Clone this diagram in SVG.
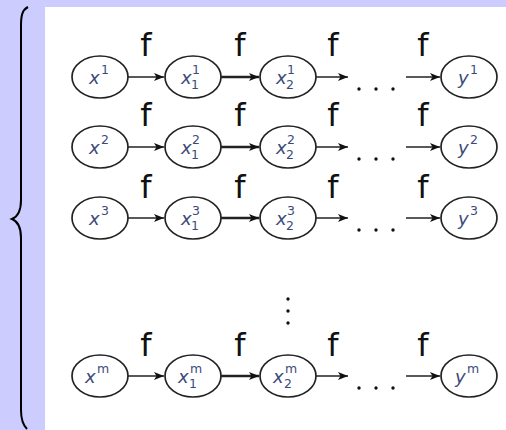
<svg xmlns="http://www.w3.org/2000/svg" width="506" height="430" viewBox="0 0 506 430">
  <defs>
    <marker id="head" viewBox="0 0 10 10" refX="10" refY="5" markerWidth="10" markerHeight="10" markerUnits="userSpaceOnUse" orient="auto">
      <path d="M0,1 L10,5 L0,9 L2.5,5 Z" fill="#111"/>
    </marker>
    <style>
      .node ellipse { fill: #fff; stroke: #222; stroke-width: 1.7; }
      .lbl { font-family: "DejaVu Sans", "Liberation Sans", sans-serif; font-style: italic; font-size: 18px; fill: #3c4a7a; }
      .sup { font-family: "DejaVu Sans", "Liberation Sans", sans-serif; font-style: normal; font-size: 12.5px; fill: #3c4a7a; }
      .f { font-family: "DejaVu Sans", "Liberation Sans", sans-serif; font-size: 32px; fill: #111; text-anchor: middle; }
      .edge { stroke: #222; stroke-width: 1.5; fill: none; marker-end: url(#head); }
      .bold { stroke-width: 2.4; }
      .dot { fill: #111; }
    </style>
  </defs>

  <!-- page background and panel -->
  <rect width="506" height="430" fill="#ccccff"/>
  <rect x="45" y="7" width="461" height="423" fill="#ffffff"/>

  <!-- left brace -->
  <path d="M28,7 C22,10 21,16 21,26 L21,200 C21,212 17,217 12,219 C17,221 21,226 21,238 L21,410 C21,420 23,425 27,429" fill="none" stroke="#000" stroke-width="2"/>

  <!-- row 1 -->
  <g id="n-x1" class="node"><ellipse cx="100" cy="77" rx="28" ry="21"/><text class="lbl" x="89" y="84">x</text><text class="sup" x="101" y="74">1</text></g>
  <g id="n-x1-1" class="node"><ellipse cx="193" cy="77" rx="28" ry="21"/><text class="lbl" x="181" y="84">x</text><text class="sup" x="192" y="74">1</text><text class="sup" x="191" y="89">1</text></g>
  <g id="n-x1-2" class="node"><ellipse cx="288" cy="77" rx="28" ry="21"/><text class="lbl" x="276" y="84">x</text><text class="sup" x="287" y="74">1</text><text class="sup" x="286" y="89">2</text></g>
  <g id="n-y1" class="node"><ellipse cx="469" cy="77" rx="28" ry="21"/><text class="lbl" x="458" y="84">y</text><text class="sup" x="470" y="74">1</text></g>

  <!-- row 2 -->
  <g id="n-x2" class="node"><ellipse cx="100" cy="147" rx="28" ry="21"/><text class="lbl" x="89" y="154">x</text><text class="sup" x="101" y="144">2</text></g>
  <g id="n-x2-1" class="node"><ellipse cx="193" cy="147" rx="28" ry="21"/><text class="lbl" x="181" y="154">x</text><text class="sup" x="192" y="144">2</text><text class="sup" x="191" y="159">1</text></g>
  <g id="n-x2-2" class="node"><ellipse cx="288" cy="147" rx="28" ry="21"/><text class="lbl" x="276" y="154">x</text><text class="sup" x="287" y="144">2</text><text class="sup" x="286" y="159">2</text></g>
  <g id="n-y2" class="node"><ellipse cx="469" cy="147" rx="28" ry="21"/><text class="lbl" x="458" y="154">y</text><text class="sup" x="470" y="144">2</text></g>

  <!-- row 3 -->
  <g id="n-x3" class="node"><ellipse cx="100" cy="218" rx="28" ry="21"/><text class="lbl" x="89" y="225">x</text><text class="sup" x="101" y="215">3</text></g>
  <g id="n-x3-1" class="node"><ellipse cx="193" cy="218" rx="28" ry="21"/><text class="lbl" x="181" y="225">x</text><text class="sup" x="192" y="215">3</text><text class="sup" x="191" y="230">1</text></g>
  <g id="n-x3-2" class="node"><ellipse cx="288" cy="218" rx="28" ry="21"/><text class="lbl" x="276" y="225">x</text><text class="sup" x="287" y="215">3</text><text class="sup" x="286" y="230">2</text></g>
  <g id="n-y3" class="node"><ellipse cx="469" cy="218" rx="28" ry="21"/><text class="lbl" x="458" y="225">y</text><text class="sup" x="470" y="215">3</text></g>

  <!-- row m -->
  <g id="n-xm" class="node"><ellipse cx="100" cy="376" rx="28" ry="21"/><text class="lbl" x="85" y="383">x</text><text class="sup" x="97" y="373" font-style="italic">m</text></g>
  <g id="n-xm-1" class="node"><ellipse cx="193" cy="376" rx="28" ry="21"/><text class="lbl" x="178" y="383">x</text><text class="sup" x="190" y="373" font-style="italic">m</text><text class="sup" x="189" y="388">1</text></g>
  <g id="n-xm-2" class="node"><ellipse cx="288" cy="376" rx="28" ry="21"/><text class="lbl" x="273" y="383">x</text><text class="sup" x="285" y="373" font-style="italic">m</text><text class="sup" x="284" y="388">2</text></g>
  <g id="n-ym" class="node"><ellipse cx="469" cy="376" rx="28" ry="21"/><text class="lbl" x="455" y="383">y</text><text class="sup" x="467" y="373" font-style="italic">m</text></g>

  <!-- connectors between the nodes of each row -->
  <g id="connectors">
    <g id="row1">
      <path class="edge" d="M128,77 H164"/>
      <path class="edge bold" d="M221,77 H259"/>
      <path class="edge" d="M316,77 H348"/>
      <path class="edge" d="M406,77 H440"/>
    </g>
    <g id="row2">
      <path class="edge" d="M128,147 H164"/>
      <path class="edge bold" d="M221,147 H259"/>
      <path class="edge" d="M316,147 H348"/>
      <path class="edge" d="M406,147 H440"/>
    </g>
    <g id="row3">
      <path class="edge" d="M128,218 H164"/>
      <path class="edge bold" d="M221,218 H259"/>
      <path class="edge" d="M316,218 H348"/>
      <path class="edge" d="M406,218 H440"/>
    </g>
    <g id="rowm">
      <path class="edge" d="M128,376 H164"/>
      <path class="edge bold" d="M221,376 H259"/>
      <path class="edge" d="M316,376 H348"/>
      <path class="edge" d="M406,376 H440"/>
    </g>
  </g>

  <g id="labels">
    <text class="f" x="146" y="56">f</text><text class="f" x="240" y="56">f</text><text class="f" x="333" y="56">f</text><text class="f" x="423" y="56">f</text>
    <text class="f" x="146" y="126">f</text><text class="f" x="240" y="126">f</text><text class="f" x="333" y="126">f</text><text class="f" x="423" y="126">f</text>
    <text class="f" x="146" y="198">f</text><text class="f" x="240" y="198">f</text><text class="f" x="333" y="198">f</text><text class="f" x="423" y="198">f</text>
    <text class="f" x="146" y="356">f</text><text class="f" x="240" y="356">f</text><text class="f" x="333" y="356">f</text><text class="f" x="423" y="356">f</text>
  </g>

  <!-- ellipsis dots between the third node and the last -->
  <g id="dots">
    <circle class="dot" cx="359" cy="89" r="1.7"/><circle class="dot" cx="376" cy="89" r="1.7"/><circle class="dot" cx="393" cy="89" r="1.7"/>
    <circle class="dot" cx="359" cy="159" r="1.7"/><circle class="dot" cx="376" cy="159" r="1.7"/><circle class="dot" cx="393" cy="159" r="1.7"/>
    <circle class="dot" cx="359" cy="230" r="1.7"/><circle class="dot" cx="376" cy="230" r="1.7"/><circle class="dot" cx="393" cy="230" r="1.7"/>
    <circle class="dot" cx="359" cy="388" r="1.7"/><circle class="dot" cx="376" cy="388" r="1.7"/><circle class="dot" cx="393" cy="388" r="1.7"/>
    <circle class="dot" cx="288" cy="299" r="1.7"/><circle class="dot" cx="288" cy="311" r="1.7"/><circle class="dot" cx="288" cy="323" r="1.7"/>
  </g>
</svg>
